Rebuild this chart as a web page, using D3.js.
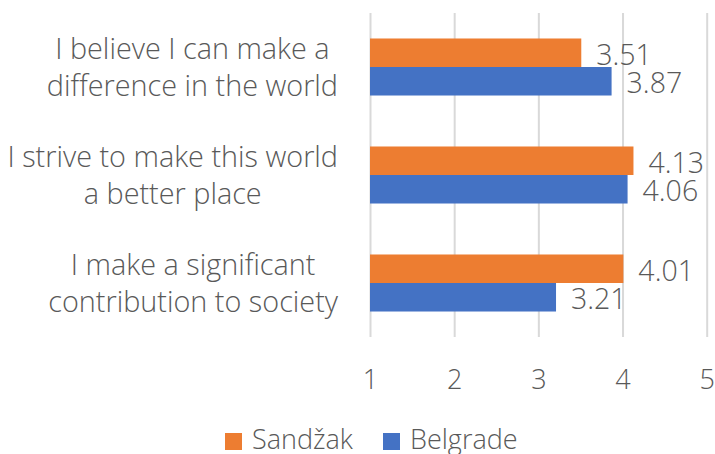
<!DOCTYPE html>
<html>
<head>
<meta charset="utf-8">
<script src="https://d3js.org/d3.v7.min.js"></script>
<style>
  body { margin: 0; background: #fff; }
  text { font-family: "Open Sans", sans-serif; font-weight: 300; fill: #595959; }
</style>
</head>
<body>
<svg id="chart" width="715" height="454"></svg>
<script>
const categories = [
  "I believe I can make a\ndifference in the world",
  "I strive to make this world\na better place",
  "I make a significant\ncontribution to society"
];
const seriesNames = ["Sandžak", "Belgrade"];
const sandzak = [3.51, 4.13, 4.01];
const belgrade = [3.87, 4.06, 3.21];
const tickValues = [1, 2, 3, 4, 5];
const colors = ["#ED7D31", "#4472C4"];

const svg = d3.select('#chart');
const margin = {top: 13, right: 8, bottom: 117, left: 370};
const width = +svg.attr('width') - margin.left - margin.right;
const height = +svg.attr('height') - margin.top - margin.bottom;

const x = d3.scaleLinear().domain([1, 5]).range([0, 336.7]);
const y = d3.scaleBand().domain(categories).range([0, height])
  .paddingInner(0.472).paddingOuter(0.236);
const ySub = d3.scaleBand().domain(seriesNames).range([0, y.bandwidth()]);

const g = svg.append('g').attr('transform', 'translate(' + margin.left + ',' + margin.top + ')');

// gridlines + tick labels
const xAxis = d3.axisBottom(x).tickValues(tickValues).tickSize(height).tickFormat(d3.format('d'));
const ax = g.append('g').call(xAxis);
ax.select('.domain').remove();
ax.selectAll('.tick line').attr('stroke', '#D9D9D9').attr('stroke-width', 2);
ax.selectAll('.tick text')
  .attr('y', height + 52)
  .attr('dy', 0)
  .style('font-size', '27px')
  .style('fill', '#595959');

const data = categories.map((c, i) => ({cat: c, vals: [sandzak[i], belgrade[i]]}));

const groups = g.selectAll('.grp').data(data).enter().append('g')
  .attr('class', 'grp')
  .attr('transform', d => 'translate(0,' + y(d.cat) + ')');

groups.selectAll('rect').data(d => d.vals.map((v, j) => ({v, s: seriesNames[j], j})))
  .enter().append('rect')
  .attr('x', x(1))
  .attr('y', d => ySub(d.s))
  .attr('width', d => x(d.v) - x(1))
  .attr('height', ySub.bandwidth())
  .attr('fill', d => colors[d.j]);

groups.selectAll('.val').data(d => d.vals.map((v, j) => ({v, s: seriesNames[j]})))
  .enter().append('text')
  .attr('class', 'val')
  .attr('x', d => x(d.v) + 15)
  .attr('y', d => ySub(d.s) + ySub.bandwidth() / 2 + 2)
  .attr('dy', '0.35em')
  .style('font-size', '28.5px')
  .text(d => d.v.toFixed(2));

// category labels, each block centered and right-aligned to the plot
const lab = svg.append('g');
categories.forEach(c => {
  const lines = c.split('\n');
  const t = lab.append('text').style('font-size', '28.8px').attr('text-anchor', 'middle');
  const cy = margin.top + y(c) + y.bandwidth() / 2;
  lines.forEach((ln, k) => {
    t.append('tspan').text(ln)
      .attr('y', cy + (k - (lines.length - 1) / 2) * 37 + 10);
  });
  let maxW = 0;
  t.selectAll('tspan').each(function() { maxW = Math.max(maxW, this.getComputedTextLength()); });
  t.selectAll('tspan').attr('x', 338 - maxW / 2);
});

// legend
const legend = svg.append('g');
const legendX = [225, 383];
seriesNames.forEach((s, i) => {
  legend.append('rect').attr('x', legendX[i]).attr('y', 433).attr('width', 17).attr('height', 17).attr('fill', colors[i]);
  legend.append('text').attr('x', legendX[i] + 27).attr('y', 449).style('font-size', '27px').text(s);
});
</script>
</body>
</html>
